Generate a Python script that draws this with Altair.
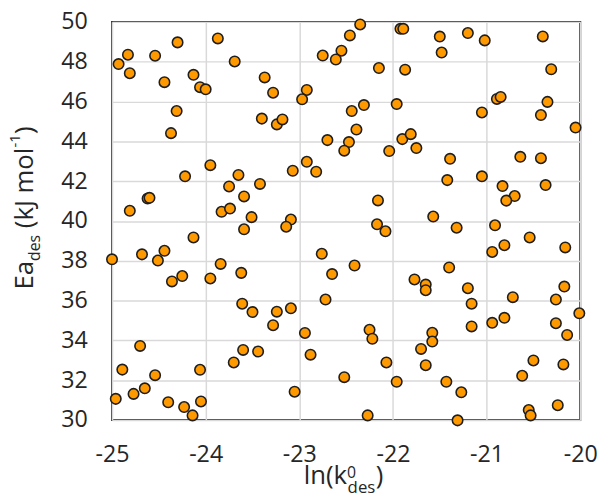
import altair as alt
import pandas as pd

# ln(k0_des) values
ln_k0 = [
    -24.93, -24.83, -24.81, -24.54, -24.30, -24.44, -23.87, -23.69, -24.13, -24.06,
    -24.00, -24.31, -24.37, -23.37, -23.40, -23.95, -24.22, -23.65, -23.75, -23.42,
    -23.59, -24.62, -24.60, -24.81, -23.83, -23.74, -23.51,
    -22.35, -22.46, -22.55, -22.75, -22.61, -21.92, -21.89, -22.15, -21.87, -23.28,
    -22.92, -22.97, -23.24, -23.18, -22.44, -22.31, -21.96, -22.39, -22.47, -22.52,
    -22.70, -22.04, -21.90, -21.81, -21.75, -22.92, -22.82, -23.07, -22.16,
    -21.50, -21.20, -21.02, -20.40, -21.48, -20.31, -20.89, -20.85, -21.05, -20.35,
    -20.42, -20.05, -21.39, -20.64, -20.42, -21.42, -21.05, -20.83, -20.70, -20.79,
    -20.37, -21.57,
    -23.59, -24.13, -25.00, -24.68, -24.44, -24.51, -23.84, -24.25, -24.36, -23.95,
    -23.62, -23.61, -23.50, -24.70, -23.60, -23.44, -23.70, -24.89, -24.06, -24.54,
    -24.65, -24.77, -24.96, -24.40, -24.05, -24.23, -24.14,
    -23.09, -23.14, -22.17, -22.08, -22.76, -22.41, -22.65, -21.77, -22.72, -23.24,
    -23.09, -23.28, -22.94, -22.25, -22.22, -22.88, -22.07, -22.52, -21.96, -23.05,
    -22.27,
    -21.32, -20.91, -20.54, -20.16, -20.81, -20.94, -21.40, -21.65, -21.65, -21.20,
    -21.16, -20.72, -20.17, -20.26, -20.01, -20.26, -20.14, -21.16, -20.94, -20.81,
    -21.58, -21.58, -21.70, -21.65, -20.50, -20.18, -20.62, -21.43, -21.27, -20.24,
    -20.55, -20.53, -21.31,
]

# Ea_des values (kJ/mol)
ea_des = [
    47.88, 48.35, 47.42, 48.30, 48.97, 46.97, 49.17, 48.01, 47.34, 46.72,
    46.61, 45.52, 44.41, 47.21, 45.14, 42.80, 42.24, 42.31, 41.73, 41.86,
    41.23, 41.13, 41.16, 40.51, 40.46, 40.62, 40.19,
    49.87, 49.32, 48.55, 48.31, 48.11, 49.65, 49.65, 47.68, 47.60, 46.44,
    46.58, 46.11, 44.85, 45.10, 45.52, 45.82, 45.87, 44.59, 43.96, 43.53,
    44.06, 43.51, 44.11, 44.36, 43.66, 42.97, 42.47, 42.52, 41.03,
    49.26, 49.44, 49.07, 49.27, 48.46, 47.62, 46.13, 46.23, 45.45, 45.98,
    45.32, 44.69, 43.12, 43.22, 43.15, 42.05, 42.24, 41.75, 41.25, 41.02,
    41.80, 40.22,
    39.58, 39.17, 38.07, 38.32, 38.50, 38.01, 37.84, 37.23, 36.96, 37.11,
    37.39, 35.84, 35.42, 33.72, 33.52, 33.44, 32.89, 32.53, 32.52, 32.25,
    31.59, 31.31, 31.06, 30.89, 30.93, 30.65, 30.23,
    40.07, 39.71, 39.83, 39.48, 38.35, 37.76, 37.33, 37.06, 36.05, 35.44,
    35.61, 34.76, 34.37, 34.53, 34.08, 33.28, 32.89, 32.15, 31.92, 31.42,
    30.23,
    39.66, 39.78, 39.17, 38.67, 38.78, 38.44, 37.66, 36.80, 36.52, 36.62,
    35.84, 36.17, 36.70, 36.05, 35.36, 34.86, 34.27, 34.70, 34.88, 35.13,
    34.38, 33.94, 33.57, 32.75, 32.99, 32.79, 32.22, 31.92, 31.39, 30.74,
    30.50, 30.23, 29.98,
]

x_ticks = [-25, -24, -23, -22, -21, -20]
y_ticks = [30, 32, 34, 36, 38, 40, 42, 44, 46, 48, 50]

df = pd.DataFrame({"lnk": ln_k0, "ea": ea_des})

FONT = "Open Sans"
TXT = "#262626"
W, H = 474, 403

points = alt.Chart(df).mark_circle(
    size=112, fill="#FF9900", opacity=1, stroke="#1e1e1e", strokeWidth=1.6
).encode(
    x=alt.X("lnk:Q", scale=alt.Scale(domain=[-25, -20], nice=False, zero=False),
            axis=alt.Axis(values=x_ticks, title=None, labelExpr="'' + datum.value",
                          labelPadding=23, labelFlush=False)),
    y=alt.Y("ea:Q", scale=alt.Scale(domain=[30, 50], nice=False, zero=False),
            axis=alt.Axis(values=y_ticks, title=None, labelExpr="'' + datum.value",
                          labelPadding=25, labelFlush=False)),
)


def txt(s, x, y, size, angle=0):
    return alt.Chart(pd.DataFrame({"t": [s]})).mark_text(
        text=s, fontSize=size, font=FONT, align="left", baseline="alphabetic",
        angle=angle, color=TXT
    ).encode(x=alt.value(x), y=alt.value(y))


texts = [
    # x title: ln(k^0_des)
    txt("ln(k", 194.0, 468, 26),
    txt("0", 238.0, 462, 16),
    txt("des", 238.5, 477, 17),
    txt(")", 267.0, 468, 26),
    # y title: Ea_des (kJ mol^-1)
    txt("Ea", -80.3, 271, 26, 270),
    txt("des", -73.3, 242, 16, 270),
    txt("(kJ mol", -80.3, 208.8, 26, 270),
    txt("-1", -92.8, 127.2, 15, 270),
    txt(")", -80.3, 113.5, 26, 270),
]

chart = alt.layer(points, *texts).properties(
    width=W, height=H,
    autosize=alt.AutoSizeParams(type="none"),
    padding={"left": 105.3, "top": 11, "right": 20, "bottom": 80},
).configure_view(
    stroke="#333333", strokeWidth=2
).configure_axis(
    domain=False, ticks=False, grid=True, gridColor="#d9d9d9", gridWidth=1.5,
    labelFont=FONT, labelFontSize=23.5, labelColor=TXT,
)

chart.save("out.html", embed_options={"renderer": "svg", "actions": False})
